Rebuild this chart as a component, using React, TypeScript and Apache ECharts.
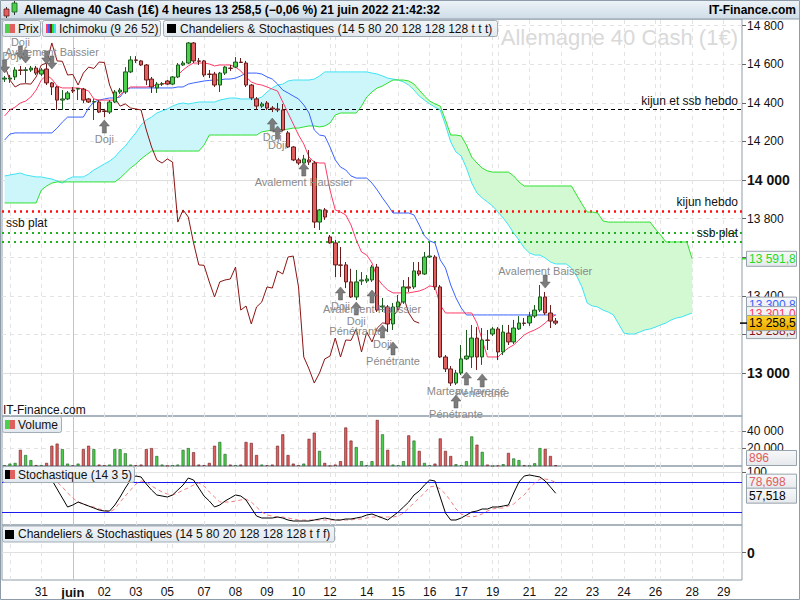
import React, { useEffect, useRef } from 'react';
import * as echarts from 'echarts';

const FONT = 'Liberation Sans, Arial, Helvetica, sans-serif';

// ---- time slots (4h bars) ----
const DAY_LABELS = ['', '', '31', 'juin', '02', '03', '05', '', '07', '08', '09', '10', '12', '', '14', '15', '16', '17', '19', '', '21', '22', '23', '24', '26', '', '28', '29'];
const DAY_SLOTS = [1, 6, 6, 6, 6, 6, 1, 6, 6, 6, 6, 6, 1, 6, 6, 6, 6, 6, 1, 6, 6, 6, 6, 6, 1, 6, 6, 4];

// ---- price candles [open, close, low, high] ----
const CANDLES = [
  [14523, 14528, 14508, 14539], [14523, 14528, 14503, 14544], [14534, 14570, 14518, 14585], [14570, 14568, 14544, 14591],
  [14568, 14571, 14503, 14585], [14570, 14580, 14560, 14591], [14580, 14554, 14544, 14591], [14549, 14570, 14539, 14580],
  [14575, 14503, 14492, 14601], [14503, 14482, 14440, 14508], [14482, 14414, 14363, 14487], [14414, 14420, 14363, 14466],
  [14420, 14451, 14414, 14461], [14466, 14461, 14451, 14482], [14471, 14474, 14414, 14477], [14471, 14414, 14399, 14477],
  [14420, 14404, 14399, 14425], [14404, 14406, 14311, 14420], [14404, 14352, 14347, 14414], [14358, 14355, 14326, 14368],
  [14352, 14404, 14342, 14414], [14404, 14456, 14399, 14466], [14456, 14466, 14446, 14477], [14456, 14560, 14446, 14585],
  [14560, 14622, 14554, 14642], [14622, 14620, 14606, 14642], [14617, 14596, 14591, 14622], [14596, 14518, 14492, 14601],
  [14523, 14482, 14451, 14534], [14477, 14497, 14451, 14508], [14497, 14499, 14487, 14508], [14513, 14497, 14492, 14518],
  [14497, 14534, 14492, 14539], [14534, 14596, 14528, 14606], [14596, 14606, 14591, 14617], [14606, 14710, 14601, 14715],
  [14710, 14617, 14606, 14715], [14617, 14615, 14596, 14632], [14617, 14544, 14534, 14622], [14549, 14547, 14528, 14570],
  [14549, 14492, 14482, 14560], [14492, 14554, 14456, 14560], [14554, 14585, 14544, 14591], [14580, 14578, 14565, 14596],
  [14585, 14611, 14580, 14637], [14611, 14609, 14606, 14632], [14606, 14492, 14482, 14617], [14492, 14425, 14414, 14497],
  [14420, 14383, 14363, 14430], [14383, 14394, 14373, 14404], [14399, 14373, 14363, 14409], [14373, 14368, 14352, 14383],
  [14368, 14363, 14352, 14399], [14363, 14259, 14254, 14394], [14244, 14171, 14166, 14254], [14171, 14104, 14098, 14176],
  [14104, 14088, 14078, 14114], [14088, 14109, 14078, 14130], [14104, 14093, 14078, 14155], [14088, 13782, 13751, 14098],
  [13782, 13845, 13741, 13850], [13845, 13808, 13793, 13855], [13705, 13674, 13670, 13715], [13674, 13560, 13497, 13689],
  [13560, 13558, 13497, 13653], [13560, 13472, 13440, 13575], [13472, 13394, 13389, 13540], [13394, 13472, 13378, 13534],
  [13477, 13482, 13456, 13523], [13477, 13487, 13466, 13508], [13482, 13549, 13472, 13560], [13549, 13326, 13316, 13565],
  [13342, 13347, 13316, 13389], [13342, 13254, 13212, 13352], [13254, 13342, 13223, 13363], [13342, 13368, 13326, 13404],
  [13368, 13446, 13358, 13482], [13446, 13440, 13420, 13497], [13446, 13529, 13435, 13575], [13529, 13513, 13503, 13575],
  [13513, 13601, 13508, 13627], [13601, 13606, 13596, 13679], [13601, 13446, 13430, 13611], [13446, 13083, 13078, 13456],
  [13083, 13021, 13005, 13093], [13021, 12948, 12933, 13036], [12948, 13000, 12938, 13016], [13000, 13073, 12990, 13145],
  [13073, 13088, 13067, 13223], [13083, 13181, 13026, 13249], [13181, 13083, 13016, 13238], [13083, 13171, 13042, 13233],
  [13171, 13169, 13119, 13223], [13202, 13228, 13192, 13238], [13228, 13109, 13067, 13238], [13109, 13212, 13093, 13249],
  [13207, 13161, 13145, 13249], [13161, 13233, 13150, 13275], [13228, 13259, 13223, 13295], [13259, 13257, 13244, 13285],
  [13259, 13295, 13244, 13316], [13295, 13326, 13285, 13352], [13326, 13394, 13316, 13456], [13394, 13311, 13301, 13420],
  [13311, 13269, 13233, 13352], [13269, 13258.5, 13249, 13285],
];

// ---- Ichimoku ----
const TENKAN = [14332, 14363, 14378, 14399, 14409, 14430, 14466, 14518, 14544, 14523, 14487, 14477, 14477, 14477, 14477, 14471, 14461, 14420, 14414, 14414,
  14414, 14414, 14440, 14466, 14482, 14482, 14482, 14482, 14487, 14492, 14497, 14503, 14518, 14544, 14570, 14591, 14606, 14606, 14606, 14601,
  14591, 14596, 14596, 14596, 14585, 14565, 14534, 14508, 14497, 14492, 14482, 14471, 14461, 14404, 14347, 14290, 14233, 14187, 14119, 14093,
  14088, 14088, 13948, 13845, 13834, 13819, 13767, 13689, 13627, 13611, 13570, 13492, 13456, 13430, 13415, 13415, 13415, 13415, 13420, 13425,
  13435, 13451, 13446, 13352, 13311, 13311, 13311, 13311, 13311, 13311, 13259, 13171, 13083, 13083, 13083, 13109, 13130, 13145, 13171, 13197,
  13212, 13223, 13238, 13259, 13285, 13301.0];
const KIJUN = [14207, 14238, 14244, 14244, 14244, 14244, 14244, 14244, 14244, 14244, 14269, 14300, 14326, 14326, 14326, 14326, 14373, 14404, 14414, 14420,
  14425, 14425, 14430, 14466, 14477, 14477, 14477, 14477, 14477, 14477, 14477, 14477, 14477, 14482, 14482, 14497, 14503, 14508, 14513, 14516,
  14518, 14518, 14523, 14523, 14528, 14539, 14554, 14554, 14554, 14549, 14534, 14523, 14497, 14466, 14451, 14435, 14420, 14389, 14347, 14259,
  14233, 14228, 14171, 14104, 14067, 14052, 14021, 14010, 14010, 14010, 13984, 13948, 13907, 13870, 13829, 13829, 13829, 13829, 13819, 13767,
  13710, 13684, 13674, 13586, 13544, 13456, 13389, 13337, 13300.8, 13300.8, 13300.8, 13300.8, 13300.8, 13300.8, 13300.8, 13300.8, 13300.8, 13300.8,
  13300.8, 13300.8, 13300.8, 13300.8, 13300.8, 13300.8, 13300.8, 13300.8];
const SENKOU_A = [14021, 14026, 14031, 14036, 14026, 14021, 14016, 14016, 14010, 14005, 13995, 13984, 14005, 14016, 14016, 14016, 14031, 14052, 14067, 14083,
  14098, 14119, 14150, 14176, 14212, 14244, 14285, 14311, 14326, 14347, 14358, 14368, 14383, 14394, 14399, 14394, 14399, 14404, 14404, 14404,
  14404, 14414, 14420, 14425, 14425, 14420, 14420, 14420, 14420, 14430, 14456, 14477, 14492, 14497, 14513, 14518, 14518, 14518, 14518, 14523,
  14539, 14560, 14560, 14560, 14560, 14560, 14560, 14560, 14560, 14560, 14554, 14549, 14539, 14528, 14523, 14518, 14508, 14492, 14466, 14435,
  14414, 14394, 14378, 14363, 14285, 14197, 14145, 14124, 14062, 13984, 13933, 13907, 13886, 13865, 13834, 13803, 13767, 13725, 13689, 13648,
  13622, 13611, 13611, 13596, 13575, 13565, 13565, 13565, 13544, 13503, 13446, 13363, 13347, 13342, 13326, 13316, 13301, 13254, 13207, 13202,
  13202, 13212, 13223, 13228, 13238, 13249, 13259, 13275, 13285, 13290, 13301, 13311];
const SENKOU_B = [13881, 13881, 13881, 13881, 13881, 13881, 13881, 13948, 13969, 13984, 13990, 13990, 13990, 13990, 13990, 13990, 13990, 13990, 13990, 13990,
  13990, 13990, 14010, 14036, 14062, 14083, 14109, 14130, 14150, 14150, 14150, 14150, 14150, 14150, 14150, 14150, 14150, 14150, 14181, 14233,
  14233, 14233, 14233, 14233, 14233, 14233, 14233, 14233, 14233, 14249, 14254, 14259, 14259, 14259, 14264, 14269, 14269, 14275, 14280, 14280,
  14275, 14280, 14295, 14337, 14347, 14347, 14347, 14347, 14383, 14430, 14456, 14477, 14487, 14503, 14518, 14518, 14518, 14513, 14497, 14466,
  14435, 14409, 14394, 14383, 14311, 14233, 14233, 14228, 14181, 14119, 14088, 14062, 14047, 14041, 14041, 14041, 14041, 14021, 13990, 13969,
  13969, 13969, 13969, 13969, 13969, 13969, 13969, 13969, 13969, 13922, 13876, 13834, 13834, 13829, 13788, 13782, 13782, 13782, 13782, 13782,
  13782, 13782, 13782, 13782, 13746, 13715, 13679, 13679, 13679, 13679, 13679, 13591.8];
const CHIKOU_SHIFT = 26;

// ---- volume ----
const VOLUME = [500, 2700, 3500, 18400, 12500, 6700, 1000, 1000, 3500, 23100, 25500, 19200, 2700, 500, 2700, 19200, 23100, 19200, 1600, 800,
  1600, 19200, 19200, 14500, 1600, 800, 1600, 19200, 20400, 11400, 1600, 300, 800, 1600, 18400, 20400, 15700, 1600, 1000, 3500,
  23100, 27400, 13700, 1600, 800, 1600, 27400, 26300, 12500, 1600, 800, 1600, 23100, 36100, 12500, 2700, 800, 2700, 31000, 38000,
  17200, 3500, 300, 1600, 5500, 43900, 29000, 21600, 5500, 800, 5500, 52500, 36100, 18400, 1600, 800, 5500, 34900, 29000, 17200,
  3500, 800, 2700, 31400, 17200, 11400, 2000, 1000, 5500, 33700, 24300, 16100, 1600, 0, 400, 2000, 14900, 8600, 6700, 800,
  300, 3100, 20400, 19600, 11400, 896];

// ---- stochastic ----
const STOCH_K = [88, 90, 95, 96, 95, 97, 93, 95, 90, 84, 66, 48, 30, 34, 40, 36, 32, 28, 24, 22,
  22, 34, 50, 68, 84, 92, 90, 76, 64, 54, 52, 50, 54, 64, 74, 88, 84, 68, 52, 42,
  30, 34, 42, 48, 54, 52, 44, 28, 12, 8, 8, 8, 10, 8, 4, 2, 2, 2, 2, 4,
  6, 8, 6, 4, 4, 6, 6, 8, 10, 14, 16, 12, 8, 4, 12, 20, 30, 40, 54, 62,
  74, 84, 82, 50, 18, 4, 4, 8, 14, 20, 22, 26, 26, 30, 30, 32, 34, 58, 80, 92,
  94, 92, 90, 82, 70, 57.518];
const STOCH_D = [88, 89, 91, 93, 95, 96, 95, 95, 93, 89, 80, 70, 58, 48, 40, 36, 32, 30, 26, 24,
  20, 26, 40, 52, 64, 76, 82, 80, 72, 66, 60, 56, 54, 58, 64, 68, 74, 78, 72, 60,
  50, 40, 40, 40, 42, 44, 46, 40, 30, 20, 14, 12, 10, 10, 8, 6, 4, 4, 4, 4,
  4, 4, 4, 4, 4, 4, 4, 6, 6, 8, 10, 10, 10, 10, 10, 12, 18, 28, 38, 48,
  58, 70, 72, 66, 56, 42, 26, 16, 12, 10, 12, 16, 22, 26, 28, 28, 32, 36, 46, 54,
  68, 78, 86, 86, 84, 78.698];
const STOCH_LEVELS = [80, 20];

// ---- reference lines ----
const REF_VALUES = [14364, 13839, 13729, 13680];
const REF_TEXTS = ['kijun et ssb hebdo', 'kijun hebdo', 'ssb plat', 'ssb plat'];

// ---- axis ticks ----
const PRICE_TICKS = [13000, 13200, 13400, 13600, 13800, 14000, 14200, 14400, 14600, 14800];
const PRICE_LABELS = [13000, 13400, 13800, 14000, 14200, 14400, 14600, 14800];
const VOLUME_TICKS = [20000, 40000];

// ---- candle pattern annotations ----
const ANNOT_SLOTS = [0, 3, 4, 8, 9, 19, 51, 52, 57, 64, 67, 70, 72, 74, 86, 88, 91, 103];
const ANNOT_PRICES = [14555, 14627, 14606, 14601, 14575, 14311, 14321, 14280, 14088, 13446, 13368, 13430, 13249, 13161, 12886, 13005, 12995, 13440];
const ANNOT_DIRS = ['down', 'down', 'down', 'down', 'down', 'up', 'up', 'up', 'up', 'up', 'up', 'up', 'up', 'up', 'up', 'up', 'up', 'down'];
const ANNOT_TEXTS = ['Doji', 'Doji', '', '', 'Avalement Baissier', 'Doji', 'Doji', 'Doji', 'Avalement Haussier', 'Doji', 'Doji\nPénétrante',
  'Avalement Haussier', 'Doji', 'Pénétrante', 'Pénétrante', 'Marteau Inversé', 'Pénétrante', 'Avalement Baissier'];

const TITLE = 'Allemagne 40 Cash (1€) 4 heures 13 258,5 (−0,06 %) 21 juin 2022 21:42:32';

const UP_COL = '#4cd04c', UP_BORDER = '#1d5a1d', DN_COL = '#e06060', DN_BORDER = '#6a1c1c';
const PANEL_BORDER = '#8d9ca8';

const fmtThousands = (v: number) => {
  const t = Math.floor(v / 1000);
  const r = Math.round(v - t * 1000);
  return t > 0 ? `${t} ${String(r).padStart(3, '0')}` : String(r);
};
const fmtDec1 = (v: number) => {
  const t = Math.floor(v / 1000);
  const r = (v - t * 1000).toFixed(1).padStart(5, '0').replace('.', ',');
  return `${t} ${r}`;
};

function buildSlots() {
  const cats: string[] = [];
  const labelAt: Record<number, string> = {};
  const dayStarts: number[] = [];
  DAY_SLOTS.forEach((n, d) => {
    dayStarts.push(cats.length);
    if (DAY_LABELS[d]) labelAt[cats.length] = DAY_LABELS[d];
    for (let j = 0; j < n; j++) cats.push(`d${d}s${j}`);
  });
  return { cats, labelAt, dayStarts };
}

export default function App() {
  const ref = useRef<HTMLDivElement>(null);
  useEffect(() => {
    document.body.style.margin = '0';
    const chart = echarts.init(ref.current!, null, { renderer: 'svg' });
    const { cats, labelAt, dayStarts } = buildSlots();
    const gridStarts = dayStarts.slice(1);
    const tickSet = new Set(gridStarts);
    const juinIdx = dayStarts[DAY_LABELS.indexOf('juin')];

    const closes = CANDLES.map((c) => c[1]);
    const chikou = closes.slice(CHIKOU_SHIFT);
    const cloudBase = SENKOU_A.map((a, i) => Math.min(a, SENKOU_B[i]));
    const cloudA = SENKOU_A.map((a, i) => Math.max(a - SENKOU_B[i], 0));
    const cloudB = SENKOU_A.map((a, i) => Math.max(SENKOU_B[i] - a, 0));

    const vLines = gridStarts.map((idx) => ({
      xAxis: idx,
      lineStyle: idx === juinIdx ? { color: '#c4c4c4', type: 'solid', width: 1 } : { color: '#e3e3e3', type: [4, 4], width: 1 },
    }));
    const gridSeries = (gi: number, extra: any[] = []) => ({
      type: 'line', xAxisIndex: gi, yAxisIndex: gi, data: [], silent: true, z: 0,
      markLine: { silent: true, symbol: ['none', 'none'], z: 1, label: { show: false }, animation: false, data: [...vLines, ...extra] },
    });

    const baseX = (gi: number) => ({
      type: 'category', gridIndex: gi, data: cats, boundaryGap: true,
      axisLine: { show: false }, axisTick: { show: false }, axisLabel: { show: false }, splitLine: { show: false },
    });

    const UP_ARROW = 'path://M5,0L10,6L7,6L7,13L3,13L3,6L0,6Z';
    const DN_ARROW = 'path://M3,0L7,0L7,7L10,7L5,13L0,7L3,7Z';

    const refColors = ['#000000', '#ff1010', '#22b022', '#22b022'];
    const refTypes: any[] = [[4, 3], [2, 4], [2, 4], [2, 4]];
    const refWidths = [1, 2.5, 2, 2];
    const refPos = ['insideEndTop', 'insideEndTop', 'insideStartTop', 'insideEndTop'];

    const option: any = {
      animation: false,
      textStyle: { fontFamily: FONT },
      grid: [
        { left: 2, right: 58, top: 19, height: 397, show: true, borderColor: PANEL_BORDER, borderWidth: 1 },
        { left: 2, right: 58, top: 416, height: 50, show: true, borderColor: PANEL_BORDER, borderWidth: 1 },
        { left: 2, right: 58, top: 466, height: 59, show: true, borderColor: PANEL_BORDER, borderWidth: 1 },
        { left: 2, right: 58, top: 525, height: 55, show: true, borderColor: PANEL_BORDER, borderWidth: 1 },
      ],
      xAxis: [
        baseX(0), baseX(1), baseX(2),
        {
          ...baseX(3),
          axisTick: {
            show: true, alignWithLabel: true, length: 3, lineStyle: { color: '#666' },
            interval: (i: number) => tickSet.has(i),
          },
          axisLabel: {
            show: true, fontSize: 12, color: '#111', margin: 6, fontFamily: FONT,
            interval: (i: number) => labelAt[i] !== undefined,
            formatter: (_v: string, i: number) => (labelAt[i] === 'juin' ? '{b|juin}' : labelAt[i] || ''),
            rich: { b: { fontWeight: 'bold', fontSize: 13, color: '#111', fontFamily: FONT } },
          },
        },
      ],
      yAxis: [
        {
          type: 'value', gridIndex: 0, position: 'right', min: 12777.2, max: 14834.2,
          axisLine: { show: false },
          axisTick: { show: true, length: 4, customValues: PRICE_TICKS, lineStyle: { color: '#666' } },
          axisLabel: {
            customValues: PRICE_LABELS, fontSize: 12, color: '#111', margin: 5, fontFamily: FONT,
            formatter: (v: number) => (v % 1000 === 0 ? `{b|${fmtThousands(v)}}` : fmtThousands(v)),
            rich: { b: { fontWeight: 'bold', fontSize: 14, color: '#111', fontFamily: FONT } },
          },
          splitLine: { show: true, lineStyle: { color: '#e3e3e3', type: [4, 4] } },
        },
        {
          type: 'value', gridIndex: 1, position: 'right', min: 0, max: 57000,
          axisLine: { show: false },
          axisTick: { show: true, length: 4, customValues: VOLUME_TICKS, lineStyle: { color: '#666' } },
          axisLabel: { customValues: VOLUME_TICKS, fontSize: 12, color: '#111', margin: 5, formatter: (v: number) => fmtThousands(v) },
          splitLine: { show: true, lineStyle: { color: '#e3e3e3', type: [4, 4] } },
        },
        {
          type: 'value', gridIndex: 2, position: 'right', min: -6, max: 112,
          axisLine: { show: false },
          axisTick: { show: true, length: 4, customValues: [100], lineStyle: { color: '#666' } },
          axisLabel: { customValues: [100], fontSize: 12, color: '#111', margin: 5 },
          splitLine: { show: true, lineStyle: { color: '#e3e3e3', type: 'solid' } },
        },
        {
          type: 'value', gridIndex: 3, position: 'right', min: -1, max: 1,
          axisLine: { show: false },
          axisTick: { show: true, length: 4, customValues: [0], lineStyle: { color: '#666' } },
          axisLabel: { customValues: [0], fontSize: 14, fontWeight: 'bold', color: '#111', margin: 5 },
          splitLine: { show: true, lineStyle: { color: '#e0e0e0', type: 'solid' } },
        },
      ],
      series: [
        gridSeries(0, [
          { yAxis: 14000, lineStyle: { color: '#dedede', type: 'solid', width: 1 } },
          { yAxis: 13000, lineStyle: { color: '#dedede', type: 'solid', width: 1 } },
        ]),
        { type: 'line', name: 'cloudBase', xAxisIndex: 0, yAxisIndex: 0, data: cloudBase, stack: 'cloud', symbol: 'none', lineStyle: { width: 0, opacity: 0 }, z: 1, silent: true },
        { type: 'line', name: 'cloudA', xAxisIndex: 0, yAxisIndex: 0, data: cloudA, stack: 'cloud', symbol: 'none', lineStyle: { width: 0, opacity: 0 }, areaStyle: { color: '#cdf6fb', opacity: 1 }, z: 1, silent: true },
        { type: 'line', name: 'cloudB', xAxisIndex: 0, yAxisIndex: 0, data: cloudB, stack: 'cloud', symbol: 'none', lineStyle: { width: 0, opacity: 0 }, areaStyle: { color: '#d3f9d3', opacity: 1 }, z: 1, silent: true },
        { type: 'line', name: 'Senkou A', xAxisIndex: 0, yAxisIndex: 0, data: SENKOU_A, symbol: 'none', lineStyle: { color: '#3fe2f4', width: 1 }, z: 3 },
        { type: 'line', name: 'Senkou B', xAxisIndex: 0, yAxisIndex: 0, data: SENKOU_B, symbol: 'none', lineStyle: { color: '#2ee02e', width: 1 }, z: 3 },
        { type: 'line', name: 'Chikou', xAxisIndex: 0, yAxisIndex: 0, data: chikou, symbol: 'none', lineStyle: { color: '#8b1414', width: 1 }, z: 3 },
        { type: 'line', name: 'Kijun', xAxisIndex: 0, yAxisIndex: 0, data: KIJUN, symbol: 'none', lineStyle: { color: '#3a62ff', width: 1 }, z: 3 },
        { type: 'line', name: 'Tenkan', xAxisIndex: 0, yAxisIndex: 0, data: TENKAN, symbol: 'none', lineStyle: { color: '#ff3a66', width: 1 }, z: 3 },
        {
          type: 'candlestick', name: 'Prix', xAxisIndex: 0, yAxisIndex: 0, data: CANDLES, barWidth: 4, z: 4,
          itemStyle: { color: UP_COL, color0: DN_COL, borderColor: UP_BORDER, borderColor0: DN_BORDER, borderWidth: 1 },
          markLine: {
            silent: true, symbol: ['none', 'none'], z: 3,
            data: REF_VALUES.map((v, i) => ({
              yAxis: v,
              lineStyle: { color: refColors[i], type: refTypes[i], width: refWidths[i] },
              label: { show: true, position: refPos[i], formatter: REF_TEXTS[i], color: '#111', fontSize: 12, fontFamily: FONT, distance: [4, 3] },
            })),
          },
          markPoint: {
            silent: true, z: 6,
            data: ANNOT_SLOTS.map((s, i) => {
              const up = ANNOT_DIRS[i] === 'up';
              const edge = i === 0;
              return {
                coord: [s, ANNOT_PRICES[i]],
                symbol: up ? UP_ARROW : DN_ARROW,
                symbolSize: [10, 13],
                symbolOffset: [0, up ? 6.5 : -6.5],
                itemStyle: { color: '#7c7c7c', borderColor: '#555', borderWidth: 0.5 },
                label: {
                  show: ANNOT_TEXTS[i] !== '', position: up ? 'bottom' : 'top', distance: up ? 1 : -1,
                  offset: edge ? [7, 0] : [0, 0],
                  formatter: ANNOT_TEXTS[i], color: '#8a8a8a', fontSize: 11, fontFamily: FONT, lineHeight: 10,
                },
              };
            }),
          },
        },
        gridSeries(1),
        {
          type: 'bar', name: 'Volume', xAxisIndex: 1, yAxisIndex: 1, barWidth: 3, z: 3,
          data: VOLUME.map((v, i) => {
            const up = CANDLES[i][1] >= CANDLES[i][0];
            return { value: v, itemStyle: { color: up ? UP_COL : DN_COL, borderColor: up ? UP_BORDER : DN_BORDER, borderWidth: 0.6 } };
          }),
        },
        gridSeries(2),
        {
          type: 'line', name: '%K', xAxisIndex: 2, yAxisIndex: 2, data: STOCH_K, symbol: 'none', lineStyle: { color: '#000', width: 1 }, z: 4,
          markLine: {
            silent: true, symbol: ['none', 'none'], z: 3, label: { show: false },
            data: STOCH_LEVELS.map((v) => ({ yAxis: v, lineStyle: { color: '#1a1aee', type: 'solid', width: 1 } })),
          },
        },
        { type: 'line', name: '%D', xAxisIndex: 2, yAxisIndex: 2, data: STOCH_D, symbol: 'none', lineStyle: { color: '#f08080', width: 1, type: [4, 3] }, z: 3 },
        gridSeries(3),
      ],
    };
    chart.setOption(option);

    // ---- graphics: title bar, legends, value tags ----
    const py = (axis: number, v: number) => chart.convertToPixel({ yAxisIndex: axis } as any, v) as unknown as number;
    const g: any[] = [];
    const txt = (x: number, y: number, text: string, opts: any = {}) => ({
      type: 'text', x, y, z: opts.z ?? 110,
      style: {
        text, fill: opts.fill ?? '#111', font: opts.font ?? `12px ${FONT}`,
        textAlign: opts.align ?? 'left', textVerticalAlign: 'middle', align: opts.align ?? 'left', verticalAlign: 'middle',
      },
    });

    // watermark
    g.push(txt(738, 37, 'Allemagne 40 Cash (1€)', { font: `22px ${FONT}`, fill: '#d9d9d9', align: 'right', z: 0 }));

    // title bar
    g.push({
      type: 'rect', shape: { x: 0, y: 0, width: 800, height: 19 }, z: 100,
      style: { fill: new echarts.graphic.LinearGradient(0, 0, 0, 1, [{ offset: 0, color: '#eef4f8' }, { offset: 1, color: '#cedce7' }]) },
    });
    g.push({ type: 'line', shape: { x1: 0, y1: 19, x2: 800, y2: 19 }, style: { stroke: PANEL_BORDER, lineWidth: 1 }, z: 101 });
    g.push({ type: 'line', shape: { x1: 6.5, y1: 7, x2: 6.5, y2: 18 }, style: { stroke: '#333', lineWidth: 1 }, z: 101 });
    g.push({ type: 'rect', shape: { x: 4, y: 9, width: 5, height: 7 }, style: { fill: DN_COL, stroke: DN_BORDER, lineWidth: 0.8 }, z: 102 });
    g.push({ type: 'line', shape: { x1: 14.5, y1: 1, x2: 14.5, y2: 15 }, style: { stroke: '#333', lineWidth: 1 }, z: 101 });
    g.push({ type: 'rect', shape: { x: 12, y: 3, width: 5, height: 9 }, style: { fill: UP_COL, stroke: UP_BORDER, lineWidth: 0.8 }, z: 102 });
    g.push(txt(24, 10, TITLE, { font: `bold 12px ${FONT}`, fill: '#000', z: 102 }));
    g.push(txt(796, 10, 'IT-Finance.com', { font: `bold 12px ${FONT}`, fill: '#000', align: 'right', z: 102 }));

    // legend boxes
    const boxFill = () => new echarts.graphic.LinearGradient(0, 0, 0, 1, [{ offset: 0, color: '#f3f6f8' }, { offset: 1, color: '#e1e8ed' }]);
    const legendBox = (x: number, y: number, w: number, icon: any[], text: string, tx: number) => {
      g.push({ type: 'rect', shape: { x, y, width: w, height: 16, r: 2 }, style: { fill: boxFill(), stroke: '#a3adb6', lineWidth: 1 }, z: 105 });
      icon.forEach((el) => g.push({ ...el, z: 106 }));
      g.push(txt(tx, y + 8, text, { z: 107 }));
    };
    const twoColor = (x: number, y: number, c1: string, c2: string) => [
      { type: 'rect', shape: { x, y, width: 5, height: 9 }, style: { fill: c1 } },
      { type: 'rect', shape: { x: x + 5, y, width: 5, height: 9 }, style: { fill: c2 } },
    ];
    legendBox(2.5, 20.5, 38, twoColor(5, 24, UP_COL, DN_COL), 'Prix', 18);
    legendBox(42.5, 20.5, 118, ['#ff3a66', '#3a62ff', '#8b1414', '#2ee02e', '#3fe2f4'].map((c, i) => ({
      type: 'rect', shape: { x: 46 + i * 2, y: 24, width: 2, height: 9 }, style: { fill: c },
    })), 'Ichimoku (9 26 52)', 59);
    legendBox(163.5, 20.5, 334, [{ type: 'rect', shape: { x: 167, y: 24, width: 9, height: 9 }, style: { fill: '#000' } }],
      'Chandeliers & Stochastiques (14 5 80 20 128 128 128 t t t)', 180);
    legendBox(2.5, 416.5, 59, twoColor(5, 420, UP_COL, DN_COL), 'Volume', 18);
    legendBox(2.5, 466.5, 132, twoColor(5, 470, '#000', DN_COL), 'Stochastique (14 3 5)', 18);
    legendBox(2.5, 526, 332, [{ type: 'rect', shape: { x: 5, y: 530, width: 9, height: 9 }, style: { fill: '#000' } }],
      'Chandeliers & Stochastiques (14 5 80 20 128 128 128 t f f)', 18);

    g.push(txt(3, 410, 'IT-Finance.com', { z: 104 }));

    // value tags
    const tag = (yc: number, text: string, color: string, fill: any, z: number) => {
      g.push({ type: 'rect', shape: { x: 746.5, y: yc - 7.5, width: 50, height: 15 }, style: { fill, stroke: '#97a3ad', lineWidth: 1 }, z });
      g.push(txt(749, yc, text, { fill: color, z: z + 1 }));
    };
    const grayFill = () => new echarts.graphic.LinearGradient(0, 0, 0, 1, [{ offset: 0, color: '#f7f8f9' }, { offset: 1, color: '#e6e9ec' }]);
    const goldFill = new echarts.graphic.LinearGradient(0, 0, 0, 1, [{ offset: 0, color: '#ffd52a' }, { offset: 1, color: '#e9a800' }]);

    const lastB = SENKOU_B[SENKOU_B.length - 1];
    const yB = py(0, lastB);
    g.push({ type: 'line', shape: { x1: 742, y1: yB, x2: 747, y2: yB }, style: { stroke: '#2ee02e', lineWidth: 1.5 }, z: 111 });
    tag(yB, fmtDec1(lastB), '#22dd22', grayFill(), 112);

    const lastClose = closes[closes.length - 1];
    const yC = py(0, lastClose);
    tag(yC - 18.5, fmtDec1(KIJUN[KIJUN.length - 1]), '#3a62ff', grayFill(), 112);
    tag(yC - 9, fmtDec1(TENKAN[TENKAN.length - 1]), '#ff3a66', grayFill(), 114);
    tag(yC + 8, fmtDec1(chikou[chikou.length - 1]), '#8b1414', grayFill(), 116);
    g.push({ type: 'line', shape: { x1: 740, y1: yC, x2: 747, y2: yC }, style: { stroke: '#000', lineWidth: 1.5 }, z: 119 });
    tag(yC, fmtDec1(lastClose), '#000', goldFill, 118);

    const lastVol = VOLUME[VOLUME.length - 1];
    const yV = Math.min(py(1, lastVol), 458);
    tag(yV, String(lastVol), '#e06060', grayFill(), 112);

    const lastD = STOCH_D[STOCH_D.length - 1];
    const lastK = STOCH_K[STOCH_K.length - 1];
    const yD = py(2, lastD) - 1;
    const yK = Math.max(py(2, lastK), yD + 14);
    tag(yD, lastD.toFixed(3).replace('.', ','), '#e06060', grayFill(), 112);
    tag(yK, lastK.toFixed(3).replace('.', ','), '#000', grayFill(), 114);

    // outer frame
    g.push({ type: 'rect', shape: { x: 0.5, y: 0.5, width: 799, height: 599 }, style: { fill: 'none', stroke: PANEL_BORDER, lineWidth: 1 }, z: 120 });

    chart.setOption({ graphic: { elements: g } });
    return () => chart.dispose();
  }, []);
  return <div ref={ref} style={{ width: 800, height: 600 }} />;
}
